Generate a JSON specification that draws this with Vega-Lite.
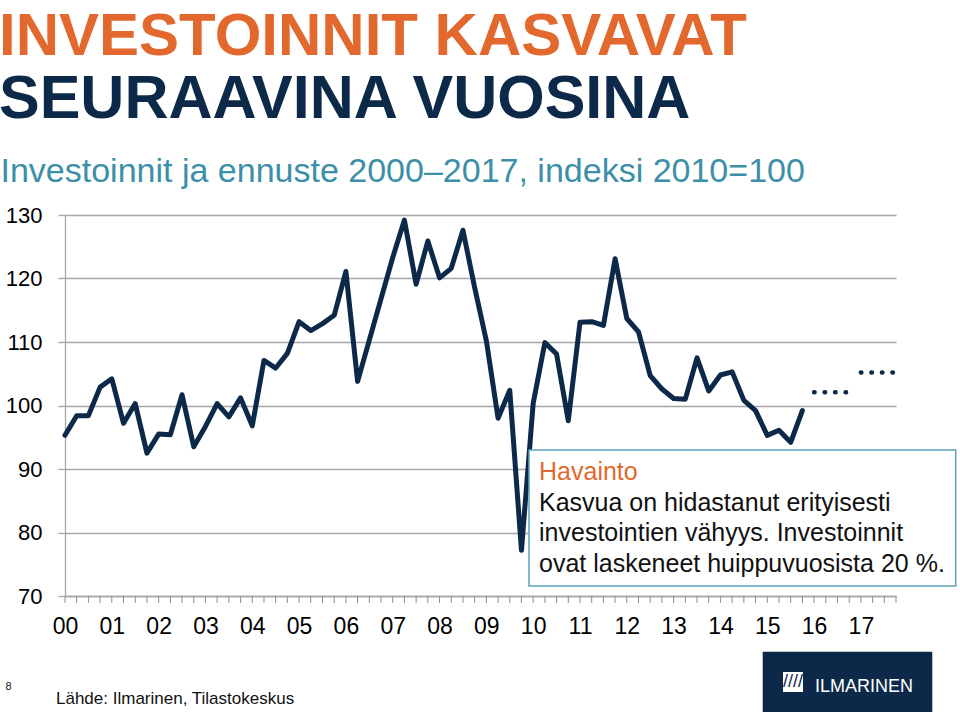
{
  "$schema": "https://vega.github.io/schema/vega-lite/v6.json",
  "width": 831,
  "height": 381,
  "autosize": {"type": "none"},
  "padding": {"left": 65, "top": 215, "right": 64, "bottom": 116},
  "background": "white",
  "title": {
    "text": "INVESTOINNIT KASVAVAT",
    "subtitle": "SEURAAVINA VUOSINA",
    "anchor": "start",
    "frame": "group",
    "dx": -66,
    "offset": 23,
    "font": "Liberation Sans",
    "fontSize": 60,
    "fontWeight": "bold",
    "color": "#E2682D",
    "subtitleFont": "Liberation Sans",
    "subtitleFontSize": 61,
    "subtitleFontWeight": "bold",
    "subtitleColor": "#0C294A",
    "subtitlePadding": 2
  },
  "config": {"view": {"stroke": null}, "font": "Liberation Sans"},
  "datasets": {
    "obs": [
      {"t": 2000, "v": 95.3}, {"t": 2000.25, "v": 98.4}, {"t": 2000.5, "v": 98.4}, {"t": 2000.75, "v": 102.9},
      {"t": 2001, "v": 104.2}, {"t": 2001.25, "v": 97.2}, {"t": 2001.5, "v": 100.3}, {"t": 2001.75, "v": 92.5},
      {"t": 2002, "v": 95.5}, {"t": 2002.25, "v": 95.4}, {"t": 2002.5, "v": 101.7}, {"t": 2002.75, "v": 93.5},
      {"t": 2003, "v": 96.7}, {"t": 2003.25, "v": 100.3}, {"t": 2003.5, "v": 98.2}, {"t": 2003.75, "v": 101.2},
      {"t": 2004, "v": 96.8}, {"t": 2004.25, "v": 107.1}, {"t": 2004.5, "v": 105.9}, {"t": 2004.75, "v": 108.2},
      {"t": 2005, "v": 113.2}, {"t": 2005.25, "v": 111.8}, {"t": 2005.5, "v": 112.9}, {"t": 2005.75, "v": 114.2},
      {"t": 2006, "v": 121.1}, {"t": 2006.25, "v": 103.8}, {"t": 2006.5, "v": 110.3}, {"t": 2006.75, "v": 116.8},
      {"t": 2007, "v": 123.3}, {"t": 2007.25, "v": 129.2}, {"t": 2007.5, "v": 119.1}, {"t": 2007.75, "v": 125.9},
      {"t": 2008, "v": 120.1}, {"t": 2008.25, "v": 121.6}, {"t": 2008.5, "v": 127.6}, {"t": 2008.75, "v": 118.6},
      {"t": 2009, "v": 110.2}, {"t": 2009.25, "v": 98.0}, {"t": 2009.5, "v": 102.4}, {"t": 2009.75, "v": 77.2},
      {"t": 2010, "v": 100.3}, {"t": 2010.25, "v": 109.9}, {"t": 2010.5, "v": 108.1}, {"t": 2010.75, "v": 97.6},
      {"t": 2011, "v": 113.1}, {"t": 2011.25, "v": 113.2}, {"t": 2011.5, "v": 112.6}, {"t": 2011.75, "v": 123.1},
      {"t": 2012, "v": 113.7}, {"t": 2012.25, "v": 111.6}, {"t": 2012.5, "v": 104.7}, {"t": 2012.75, "v": 102.6},
      {"t": 2013, "v": 101.1}, {"t": 2013.25, "v": 101.0}, {"t": 2013.5, "v": 107.5}, {"t": 2013.75, "v": 102.3},
      {"t": 2014, "v": 104.8}, {"t": 2014.25, "v": 105.3}, {"t": 2014.5, "v": 100.8}, {"t": 2014.75, "v": 99.2},
      {"t": 2015, "v": 95.3}, {"t": 2015.25, "v": 96.1}, {"t": 2015.5, "v": 94.2}, {"t": 2015.75, "v": 99.2}
    ],
    "fc": [
      {"t": 2016, "v": 102.1, "year": "2016"}, {"t": 2016.25, "v": 102.1, "year": "2016"},
      {"t": 2016.5, "v": 102.1, "year": "2016"}, {"t": 2016.75, "v": 102.1, "year": "2016"},
      {"t": 2017, "v": 105.2, "year": "2017"}, {"t": 2017.25, "v": 105.2, "year": "2017"},
      {"t": 2017.5, "v": 105.2, "year": "2017"}, {"t": 2017.75, "v": 105.2, "year": "2017"}
    ]
  },
  "layer": [
    {
      "data": {"name": "obs"},
      "mark": {"type": "line", "color": "#0C294A", "strokeWidth": 5, "strokeJoin": "round", "strokeCap": "round"},
      "encoding": {
        "x": {
          "field": "t", "type": "quantitative",
          "scale": {"domain": [2000, 2017.75], "nice": false, "zero": false},
          "axis": {
            "values": [2000,2001,2002,2003,2004,2005,2006,2007,2008,2009,2010,2011,2012,2013,2014,2015,2016,2017],
            "labelExpr": "slice(toString(datum.value), 2)",
            "grid": false,
            "ticks": false,
            "title": null,
            "domainColor": "#A6A6A6",
            "domainWidth": 1.3,
            "labelFont": "Liberation Sans",
            "labelFontSize": 23,
            "labelColor": "#000000",
            "labelPadding": 19,
            "labelOverlap": false,
            "labelFlush": false,
            "labelBound": false
          }
        },
        "y": {
          "field": "v", "type": "quantitative",
          "scale": {"domain": [70, 130], "nice": false, "zero": false},
          "axis": {
            "values": [70, 80, 90, 100, 110, 120, 130],
            "title": "Investoinnit ja ennuste 2000–2017, indeksi 2010=100",
            "titleAngle": 0,
            "titleAlign": "left",
            "titleBaseline": "alphabetic",
            "titleX": -65,
            "titleY": -34,
            "titleFont": "Liberation Sans",
            "titleFontSize": 34,
            "titleFontWeight": "normal",
            "titleColor": "#3C8FA8",
            "grid": true,
            "gridColor": "#A6A6A6",
            "gridWidth": 1.3,
            "domainColor": "#A6A6A6",
            "domainWidth": 1.3,
            "tickColor": "#A6A6A6",
            "tickWidth": 1.3,
            "tickSize": 7,
            "labelFont": "Liberation Sans",
            "labelFontSize": 22,
            "labelColor": "#000000",
            "labelPadding": 16
          }
        }
      }
    },
    {
      "data": {"name": "obs"},
      "mark": {"type": "rule", "color": "#8C8C8C", "strokeWidth": 1},
      "encoding": {
        "x": {"field": "t", "type": "quantitative", "scale": {"domain": [2000, 2017.75], "nice": false, "zero": false}},
        "y": {"datum": 70, "scale": {"domain": [70, 130], "nice": false, "zero": false}},
        "y2": {"datum": 68.9}
      }
    },
    {
      "data": {"name": "fc"},
      "mark": {"type": "rule", "color": "#8C8C8C", "strokeWidth": 1},
      "encoding": {
        "x": {"field": "t", "type": "quantitative", "scale": {"domain": [2000, 2017.75], "nice": false, "zero": false}},
        "y": {"datum": 70, "scale": {"domain": [70, 130], "nice": false, "zero": false}},
        "y2": {"datum": 68.9}
      }
    },
    {
      "data": {"name": "fc"},
      "mark": {"type": "line", "color": "#0C294A", "strokeWidth": 4.5, "strokeCap": "round", "strokeDash": [0.5, 10]},
      "encoding": {
        "x": {"field": "t", "type": "quantitative", "scale": {"domain": [2000, 2017.75], "nice": false, "zero": false}},
        "y": {"field": "v", "type": "quantitative", "scale": {"domain": [70, 130], "nice": false, "zero": false}},
        "detail": {"field": "year", "type": "nominal"}
      }
    },
    {
      "data": {"values": [{}]},
      "mark": {"type": "rect", "fill": "white", "stroke": "#5BA3B8", "strokeWidth": 1.5},
      "encoding": {
        "x": {"datum": 2009.911, "scale": {"domain": [2000, 2017.75], "nice": false, "zero": false}},
        "x2": {"datum": 2019.025},
        "y": {"datum": 92.99, "scale": {"domain": [70, 130], "nice": false, "zero": false}},
        "y2": {"datum": 71.57}
      }
    },
    {
      "data": {"values": [{}]},
      "mark": {"type": "text", "text": "Havainto", "align": "left", "baseline": "alphabetic", "font": "Liberation Sans", "fontSize": 25, "color": "#E2682D"},
      "encoding": {
        "x": {"datum": 2010.125},
        "y": {"datum": 88.27}
      }
    },
    {
      "data": {"values": [{}]},
      "mark": {"type": "text", "text": ["Kasvua on hidastanut erityisesti", "investointien vähyys. Investoinnit", "ovat laskeneet huippuvuosista 20 %."], "lineHeight": 30.5, "align": "left", "baseline": "alphabetic", "font": "Liberation Sans", "fontSize": 25, "color": "#111111"},
      "encoding": {
        "x": {"datum": 2010.125},
        "y": {"datum": 83.43}
      }
    },
    {
      "data": {"values": [{}]},
      "mark": {"type": "text", "text": "Lähde: Ilmarinen, Tilastokeskus", "align": "left", "baseline": "alphabetic", "font": "Liberation Sans", "fontSize": 17, "color": "#111111"},
      "encoding": {
        "x": {"datum": 1999.808},
        "y": {"datum": 52.99}
      }
    },
    {
      "data": {"values": [{}]},
      "mark": {"type": "text", "text": "8", "align": "left", "baseline": "alphabetic", "font": "Liberation Sans", "fontSize": 11, "color": "#111111"},
      "encoding": {
        "x": {"datum": 1998.729},
        "y": {"datum": 55.2}
      }
    },
    {
      "data": {"values": [{}]},
      "mark": {"type": "rect", "fill": "#0C294A"},
      "encoding": {
        "x": {"datum": 2014.903},
        "x2": {"datum": 2018.525},
        "y": {"datum": 61.23},
        "y2": {"datum": 51.73}
      }
    },
    {
      "data": {"values": [{}]},
      "mark": {"type": "point", "shape": "square", "filled": true, "color": "white", "opacity": 1, "size": 400},
      "encoding": {
        "x": {"datum": 2015.55},
        "y": {"datum": 56.46}
      }
    },
    {
      "data": {"values": [{}]},
      "mark": {"type": "text", "text": "////", "align": "center", "baseline": "middle", "font": "Liberation Sans", "fontSize": 18, "color": "#0C294A"},
      "encoding": {
        "x": {"datum": 2015.55},
        "y": {"datum": 56.46}
      }
    },
    {
      "data": {"values": [{}]},
      "mark": {"type": "text", "text": "ILMARINEN", "align": "left", "baseline": "alphabetic", "font": "Liberation Sans", "fontSize": 18, "color": "white"},
      "encoding": {
        "x": {"datum": 2016.02},
        "y": {"datum": 54.93}
      }
    }
  ]
}
